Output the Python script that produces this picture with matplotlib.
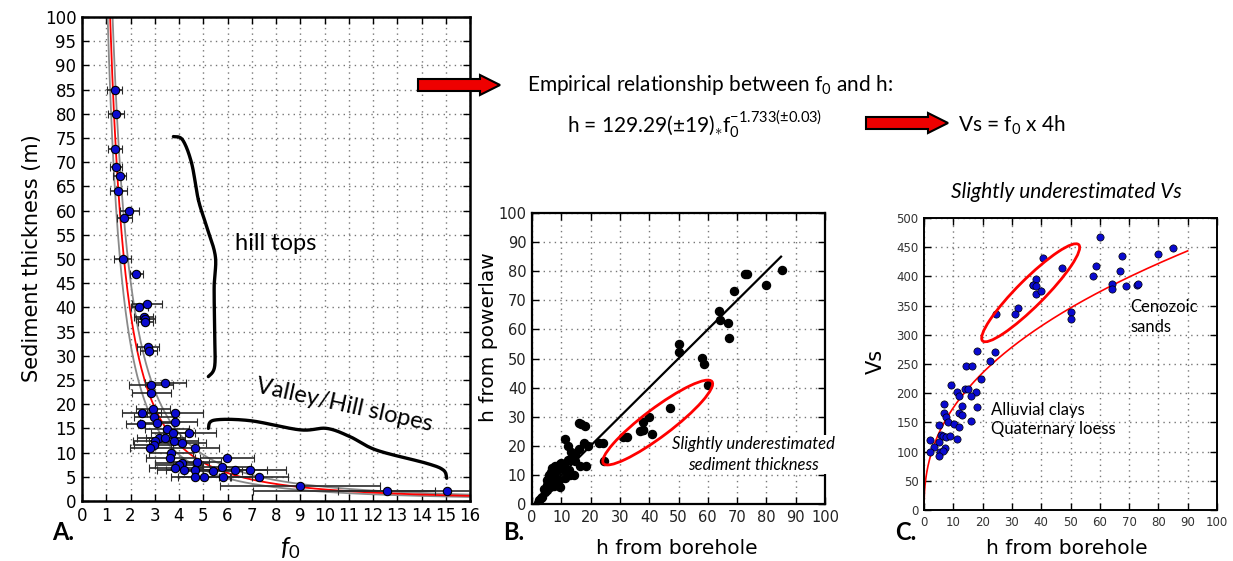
import numpy as np
import matplotlib
matplotlib.use("Agg")
import matplotlib.pyplot as plt
from matplotlib.patches import Ellipse, Polygon
from matplotlib.transforms import ScaledTranslation

plt.rcParams['mathtext.fontset'] = 'custom'
plt.rcParams['mathtext.rm'] = 'Lato'
plt.rcParams['mathtext.it'] = 'Lato:italic'
plt.rcParams['mathtext.bf'] = 'Lato:bold'
plt.rcParams['font.family'] = ['DejaVu Sans']

# ---------------- data ----------------
# Panel A: resonance frequency f0, sediment thickness h, f0 uncertainty
a_f0 = [1.35, 1.40, 1.35, 1.40, 1.55, 1.50, 1.95, 1.75, 1.68, 2.24,
        2.68, 2.36, 2.54, 2.61, 2.61, 2.72, 2.75,
        3.44, 2.85, 2.86, 2.47, 2.93, 3.82, 2.45, 2.96, 3.09, 3.85,
        3.51, 4.43, 3.75, 3.16, 3.44, 3.02, 3.78, 2.96, 2.82, 4.12,
        4.67, 3.68, 3.64, 5.98, 4.74, 4.12, 4.01, 3.85, 4.19, 4.67,
        5.76, 6.31, 6.93, 5.41, 4.65, 5.04, 5.83, 7.31, 8.99, 12.56, 15.04]
a_h = [85.0, 80.0, 72.7, 69.0, 67.2, 64.0, 60.0, 58.5, 50.0, 47.0,
       40.8, 40.0, 38.1, 37.7, 37.0, 31.9, 31.0,
       24.4, 24.0, 22.4, 18.1, 19.1, 18.1, 16.0, 17.4, 16.2, 16.3,
       14.8, 14.1, 14.0, 13.0, 13.0, 12.3, 12.3, 11.6, 11.0, 12.0,
       10.9, 10.0, 8.8, 8.9, 8.1, 7.8, 7.4, 6.9, 6.4, 6.5,
       7.1, 6.5, 6.5, 6.1, 4.9, 4.9, 5.0, 5.0, 3.0, 2.1, 2.1]
a_err = [0.30, 0.32, 0.28, 0.25, 0.28, 0.35, 0.40, 0.30, 0.35, 0.28,
         0.62, 0.35, 0.40, 0.40, 0.30, 0.45, 0.35,
         0.85, 0.90, 0.80, 0.80, 0.70, 1.15, 0.65, 0.80, 0.70, 0.90,
         0.90, 1.10, 0.90, 0.90, 0.80, 0.90, 1.00, 0.80, 0.85, 1.00,
         1.00, 0.90, 1.00, 1.10, 1.00, 1.10, 1.00, 1.10, 1.10, 1.20,
         1.20, 1.30, 1.50, 1.20, 1.00, 1.10, 1.20, 1.20, 3.30, 2.00, 8.00]

# power law h = a * f0^b
fit_a, fit_b = 129.29, -1.733
fit_da, fit_db = 19.0, 0.03

# Panel B: h from borehole vs h from power law
b_bore = [85.2, 72.6, 73.3, 79.9, 69.0, 63.9, 64.0, 66.8, 67.4, 50.0,
          50.2, 58.0, 58.8, 60.0, 47.2, 40.1, 38.0, 38.0, 37.0, 37.8,
          40.9, 31.2, 32.3, 24.7, 16.0, 16.6, 18.2, 11.1, 12.3, 13.4,
          16.1, 17.6, 19.0, 22.7, 24.2, 18.5, 16.3, 14.5, 12.2, 13.0,
          14.8, 14.8, 11.6, 11.1, 9.4, 9.4, 7.9, 6.8, 8.5, 5.7,
          7.4, 6.6, 5.1, 5.1, 6.2, 7.6, 5.1, 3.4, 2.3, 1.9,
          10.8, 12.5, 12.8, 9.1, 4.5, 6.0, 8.0, 10.0, 3.0, 5.5,
          7.0, 4.2, 9.8, 6.4]
b_pow = [80.4, 79.0, 79.0, 75.3, 73.3, 66.2, 63.4, 62.2, 57.1, 55.0,
         52.2, 50.2, 48.2, 41.0, 33.0, 30.0, 28.2, 25.5, 25.0, 25.3,
         24.0, 23.1, 23.1, 14.7, 28.0, 27.6, 26.8, 22.2, 19.9, 18.0,
         19.0, 21.0, 19.9, 21.0, 21.0, 13.0, 13.0, 9.9, 15.1, 15.0,
         14.7, 17.0, 11.3, 9.0, 5.9, 13.6, 13.0, 12.4, 11.5, 10.1,
         9.5, 7.8, 8.4, 6.7, 5.7, 6.1, 4.9, 2.4, 1.3, 0.3,
         13.9, 11.8, 10.1, 8.4, 4.0, 9.0, 12.0, 14.0, 2.0, 7.5,
         6.5, 5.0, 12.2, 11.0]

# Panel C: h from borehole vs Vs
c_h = [60.1, 40.5, 47.0, 37.1, 38.1, 37.1, 38.1, 38.1, 40.1, 32.2,
       31.0, 24.5, 50.2, 50.2, 57.8, 58.7, 67.5, 67.0, 64.1, 64.1,
       69.0, 72.6, 73.1, 80.0, 85.0, 18.1, 24.2, 22.6, 14.3, 16.4,
       19.3, 9.1, 11.1, 12.0, 13.9, 15.0, 17.7, 16.2, 13.1, 11.9,
       13.0, 16.1, 18.1, 6.7, 6.7, 7.4, 8.2, 5.1, 10.3, 12.0,
       5.9, 6.5, 7.6, 8.8, 11.1, 2.2, 5.1, 3.3, 7.1, 1.9,
       5.4, 6.5, 5.1]
c_vs = [467.5, 432.0, 415.0, 386.0, 396.0, 386.0, 384.0, 370.6, 375.0, 345.5,
        336.0, 336.0, 339.8, 327.8, 400.8, 418.0, 434.4, 409.4, 386.5, 378.6,
        383.0, 386.0, 387.7, 437.9, 448.7, 273.0, 270.0, 255.0, 247.0, 247.0,
        223.5, 213.8, 202.4, 195.6, 208.0, 208.0, 202.4, 195.0, 177.9, 165.3,
        162.5, 152.8, 176.7, 181.3, 165.3, 159.6, 151.0, 145.4, 146.5, 141.4,
        128.3, 126.6, 125.4, 126.6, 122.0, 119.7, 116.9, 108.3, 106.6, 99.8,
        99.8, 100.9, 92.4]

a_xticks = list(range(0, 17))
a_yticks = list(range(0, 101, 5))
bc_xticks = list(range(0, 101, 10))
b_yticks = list(range(0, 101, 10))
c_yticks = list(range(0, 501, 50))

# ---------------- figure ----------------
W, H = 1233, 561
fig = plt.figure(figsize=(W / 100, H / 100), dpi=100)


def P(x, y):
    return x / W, 1 - y / H


def axes_px(l, t, r, b):
    return fig.add_axes([l / W, 1 - b / H, (r - l) / W, (b - t) / H])


def style_axes(ax, lw=1.6, tlabsize=12, tcolor='black'):
    ax.grid(True, linestyle=(0, (1, 3)), color='#777777', linewidth=1.0)
    ax.set_axisbelow(True)
    ax.tick_params(direction='in', top=True, right=True, length=5, width=1,
                   labelsize=tlabsize, labelcolor=tcolor, pad=4)
    for s in ax.spines.values():
        s.set_linewidth(lw)
        s.set_color('black')


def smooth(pts, n=30):
    pts = np.asarray(pts, float)
    p = np.vstack([pts[0], pts, pts[-1]])
    out = []
    t = np.linspace(0, 1, n)[:, None]
    for i in range(1, len(p) - 2):
        p0, p1, p2, p3 = p[i - 1], p[i], p[i + 1], p[i + 2]
        seg = 0.5 * ((2 * p1) + (-p0 + p2) * t + (2 * p0 - 5 * p1 + 4 * p2 - p3) * t ** 2
                     + (-p0 + 3 * p1 - 3 * p2 + p3) * t ** 3)
        out.append(seg)
    return np.vstack(out)


# ----- Panel A -----
axA = axes_px(82, 17, 470, 501)
style_axes(axA, lw=1.8, tlabsize=12)
ff = np.linspace(0.8, 16.5, 600)
axA.plot(ff, (fit_a + fit_da) * ff ** (fit_b + fit_db), color='#8a8a8a', lw=1.3, zorder=2)
axA.plot(ff, (fit_a - fit_da) * ff ** (fit_b - fit_db), color='#8a8a8a', lw=1.3, zorder=2)
axA.plot(ff, fit_a * ff ** fit_b, color='red', lw=1.3, zorder=2)
axA.errorbar(a_f0, a_h, xerr=a_err, fmt='o', mfc='#0a0ad0', mec='black', ms=6, mew=0.8,
             ecolor='#2a2a2a', elinewidth=1.2, capsize=3, capthick=1.2, zorder=3)
axA.set_xlim(0, 16)
axA.set_ylim(0, 100)
axA.set_xticks(a_xticks)
axA.set_yticks(a_yticks)

brace = smooth([(3.77, 75.3), (4.15, 74.6), (4.52, 69.8), (4.8, 62.2), (5.14, 56.7),
                (5.5, 50.5), (5.45, 44.3), (5.47, 34.7), (5.47, 27.8), (5.21, 25.7)])
axA.plot(brace[:, 0], brace[:, 1], color='black', lw=2.4, solid_capstyle='round', zorder=4)
wave = smooth([(5.21, 15.0), (5.45, 16.7), (6.93, 16.6), (8.99, 14.7), (10.09, 15.0),
               (11.05, 13.3), (12.15, 10.5), (14.2, 7.8), (14.9, 6.4), (15.04, 4.7)])
axA.plot(wave[:, 0], wave[:, 1], color='black', lw=2.4, solid_capstyle='round', zorder=4)

fig.text(*P(276, 243), 'hill tops', family='Lato', fontsize=17, ha='center', va='center')
fig.text(*P(344, 405), 'Valley/Hill slopes', family='Lato', fontsize=17, ha='center',
         va='center', rotation=-12.5, rotation_mode='anchor')
fig.text(*P(32, 258), 'Sediment thickness (m)', fontsize=15, rotation=90, ha='center', va='center')
fig.text(*P(290, 548), r'$f_{\mathit{0}}$', fontsize=19, ha='center', va='center')
fig.text(*P(52, 533), 'A.', family='Lato', fontweight='bold', fontsize=17, ha='left', va='center')

# ----- Panel B -----
axB = axes_px(532, 213, 825, 504)
style_axes(axB, lw=1.6, tlabsize=10.5, tcolor='#222222')
axB.plot(np.linspace(2, 85, 50), np.linspace(2, 85, 50), color='black', lw=1.6, zorder=2)
axB.plot(b_bore, b_pow, 'o', color='black', ms=5.8, zorder=3)
axB.set_xlim(0, 100)
axB.set_ylim(0, 100)
axB.set_xticks(bc_xticks)
axB.set_yticks(b_yticks)
eB = Ellipse((0, 0), 1.36, 0.28, angle=37, fill=False, edgecolor='red', lw=2.0,
             transform=fig.dpi_scale_trans + ScaledTranslation(42.9, 28.0, axB.transData), zorder=4)
axB.add_patch(eB)
axB.text(75.5, 17.0, 'Slightly underestimated\nsediment thickness', family='Lato', style='italic',
         fontsize=12, ha='center', va='center', linespacing=1.35, clip_on=False, zorder=5,
         bbox=dict(facecolor='white', edgecolor='none', pad=1))
fig.text(*P(489, 337), 'h from powerlaw', fontsize=14.5, rotation=90, ha='center', va='center')
fig.text(*P(677, 548), 'h from borehole', fontsize=14.5, ha='center', va='center')
fig.text(*P(503, 533), 'B.', family='Lato', fontweight='bold', fontsize=17, ha='left', va='center')

# ----- Panel C -----
axC = axes_px(924, 218, 1217, 510)
style_axes(axC, lw=1.4, tlabsize=8.5, tcolor='#333333')
hh = np.linspace(0.01, 90, 600)
vs_fit = 4 * hh * (hh / fit_a) ** (1 / fit_b)
axC.plot(hh, vs_fit, color='red', lw=1.2, zorder=2)
axC.plot(c_h, c_vs, 'o', mfc='#0a0ad0', mec='black', ms=5.2, mew=0.5, zorder=3)
axC.set_xlim(0, 100)
axC.set_ylim(0, 500)
axC.set_xticks(bc_xticks)
axC.set_yticks(c_yticks)
eC = Ellipse((0, 0), 1.36, 0.27, angle=45, fill=False, edgecolor='red', lw=2.0,
             transform=fig.dpi_scale_trans + ScaledTranslation(36.4, 372.0, axC.transData), zorder=4)
axC.add_patch(eC)
axC.text(70.5, 331, 'Cenozoic\nsands', family='Lato', fontsize=12, ha='left', va='center',
         linespacing=1.3)
axC.text(22.7, 155, 'Alluvial clays\nQuaternary loess', family='Lato', fontsize=12, ha='left',
         va='center', linespacing=1.3)
fig.text(*P(876, 361), 'Vs', fontsize=15, rotation=90, ha='center', va='center')
fig.text(*P(1067, 548), 'h from borehole', fontsize=14.5, ha='center', va='center')
fig.text(*P(895, 533), 'C.', family='Lato', fontweight='bold', fontsize=17, ha='left', va='center')
fig.text(*P(1066, 192), 'Slightly underestimated Vs', family='Lato', style='italic',
         fontsize=15, ha='center', va='center')

# ----- Header texts and arrows -----
fig.text(*P(527, 85), r'Empirical relationship between f$_\mathrm{0}$ and h:', family='Lato',
         fontsize=15, ha='left', va='center')
fig.text(*P(567, 125),
         r'h = 129.29($\pm$19)$_{\ast}$f$_\mathrm{0}^{\mathrm{-1.733(\pm 0.03)}}$',
         family='Lato', fontsize=15, ha='left', va='center')
fig.text(*P(958, 125), r'Vs = f$_\mathrm{0}$ x 4h', family='Lato', fontsize=15,
         ha='left', va='center')


def block_arrow(x0, x1, yc, sw=6, hw=10, hl=20):
    pts = [(x0, yc - sw), (x1 - hl, yc - sw), (x1 - hl, yc - hw), (x1, yc),
           (x1 - hl, yc + hw), (x1 - hl, yc + sw), (x0, yc + sw)]
    pts = [(x / 100, (H - y) / 100) for x, y in pts]
    fig.patches.append(Polygon(pts, closed=True, facecolor='#ee0000', edgecolor='black',
                               lw=1.5, transform=fig.dpi_scale_trans, figure=fig))


block_arrow(418, 500, 85)
block_arrow(866, 948, 123)

fig.savefig('out.png', dpi=100)
